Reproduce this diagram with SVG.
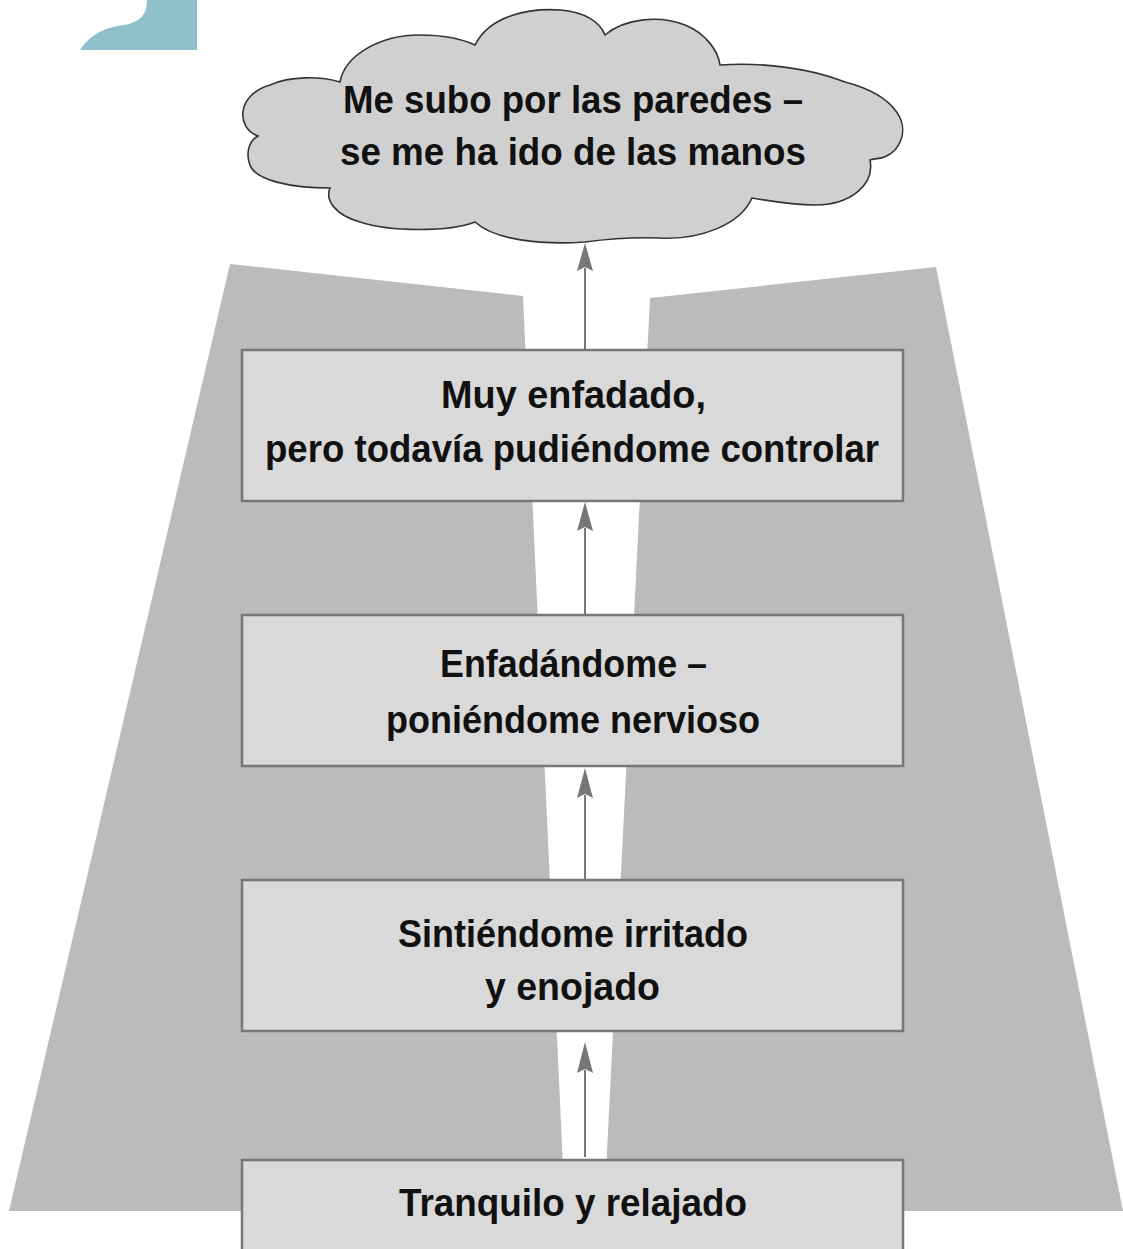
<svg xmlns="http://www.w3.org/2000/svg" width="1123" height="1249" viewBox="0 0 1123 1249">
<defs>
<style>
.bg{fill:#bbbbbb}
.box{fill:#d9d9d9;stroke:#777777;stroke-width:2.5}
.cloud{fill:#d0d0d0;stroke:#333333;stroke-width:1.6}
.t{font-family:"Liberation Sans",Arial,sans-serif;font-weight:700;font-size:38px;fill:#111111;text-anchor:start}
.ln{stroke:#777777;stroke-width:2;fill:none}
.ah{fill:#777777}
</style>
<marker id="arr" viewBox="0 0 28 16" refX="0" refY="8" markerWidth="28" markerHeight="16" orient="auto" markerUnits="userSpaceOnUse">
<path d="M0,8 L28,0 L24,8 L28,16 Z" class="ah"/>
</marker>
</defs>
<rect width="1123" height="1249" fill="#ffffff"/>
<path d="M147,0 H197 V50 H80 C92,32 108,27 124,25 C141,22 147,14 147,0 Z" fill="#8fc0cc"/>
<g id="background">
<polygon class="bg" points="230,264 523,296 565,1211 9,1211"/>
<polygon class="bg" points="650,298 936,267 1123,1211 604,1211"/>
</g>
<g id="cloud">
<path class="cloud" d="M258,136 C236,128 236,95 270,85 C290,76 320,76 340,82 C345,55 380,35 420,35 C440,35 460,38 475,45 C490,15 530,8 560,10 C585,12 600,22 605,35 C625,18 660,15 685,25 C705,33 718,50 720,65 C760,62 810,68 845,82 C895,95 915,125 895,150 C885,160 875,158 870,160 C875,185 850,205 815,205 C790,205 765,200 752,198 C740,225 700,240 660,238 C630,237 600,240 585,242 C540,245 495,240 475,222 C450,232 390,232 360,222 C335,215 325,200 330,188 C290,188 255,180 250,165 C245,152 250,140 258,136 Z"/>
<text class="t" x="343" y="113" textLength="460" lengthAdjust="spacingAndGlyphs">Me subo por las paredes –</text>
<text class="t" x="340" y="165" textLength="466" lengthAdjust="spacingAndGlyphs">se me ha ido de las manos</text>
</g>
<g id="connectors">
<line class="ln" x1="585" y1="350" x2="585" y2="268"/>
<path class="ah" d="M585,243 L593,271 L585,267 L577,271 Z"/>
<line class="ln" x1="585" y1="615" x2="585" y2="528"/>
<path class="ah" d="M585,502 L593,531 L585,527 L577,531 Z"/>
<line class="ln" x1="585" y1="880" x2="585" y2="795"/>
<path class="ah" d="M585,768 L593,798 L585,794 L577,798 Z"/>
<line class="ln" x1="585" y1="1157" x2="585" y2="1070"/>
<path class="ah" d="M585,1042 L593,1073 L585,1069 L577,1073 Z"/>
</g>
<g id="node1">
<rect class="box" x="242" y="350" width="661" height="151"/>
<text class="t" x="441" y="408" textLength="265" lengthAdjust="spacingAndGlyphs">Muy enfadado,</text>
<text class="t" x="265" y="462" textLength="614" lengthAdjust="spacingAndGlyphs">pero todavía pudiéndome controlar</text>
</g>
<g id="node2">
<rect class="box" x="242" y="615" width="661" height="151"/>
<text class="t" x="440" y="677" textLength="267" lengthAdjust="spacingAndGlyphs">Enfadándome –</text>
<text class="t" x="386" y="733" textLength="374" lengthAdjust="spacingAndGlyphs">poniéndome nervioso</text>
</g>
<g id="node3">
<rect class="box" x="242" y="880" width="661" height="151"/>
<text class="t" x="398" y="947" textLength="350" lengthAdjust="spacingAndGlyphs">Sintiéndome irritado</text>
<text class="t" x="485" y="1000" textLength="175" lengthAdjust="spacingAndGlyphs">y enojado</text>
</g>
<g id="node4">
<rect class="box" x="242" y="1160" width="661" height="120"/>
<text class="t" x="399" y="1216" textLength="348" lengthAdjust="spacingAndGlyphs">Tranquilo y relajado</text>
</g>
</svg>
